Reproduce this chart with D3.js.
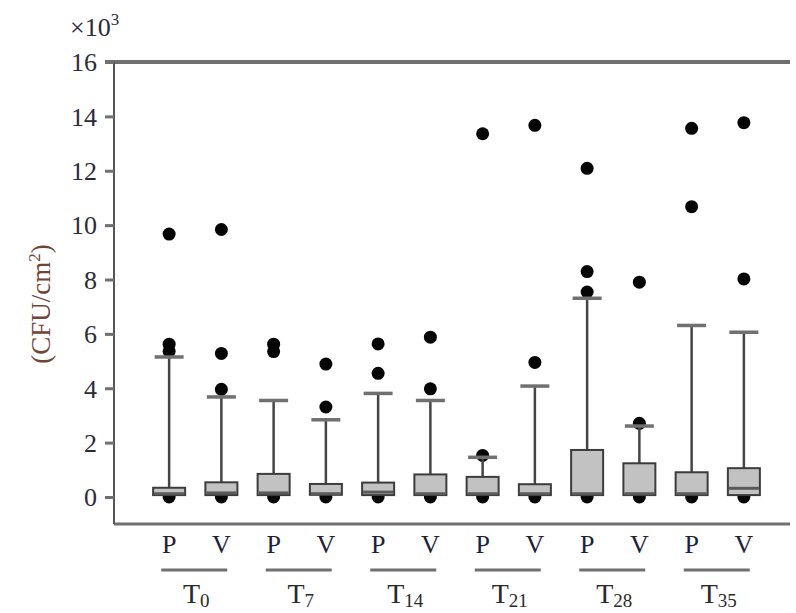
<!DOCTYPE html>
<html><head><meta charset="utf-8">
<script src="https://cdn.jsdelivr.net/npm/d3@7"></script>
<style>body{margin:0;background:#fff}svg{display:block}text{font-family:"Liberation Serif","DejaVu Serif",serif}</style>
</head><body><svg id="c" width="796" height="613"></svg>
<script>
// ---- data (values in thousands CFU/cm²) ----
const groups = ["T0","T7","T14","T21","T28","T35"];
const groupSubs = ["0","7","14","21","28","35"];
const treatments = ["P","V"];
// order: T0P, T0V, T7P, T7V, ... T35P, T35V
const q1Values      = [0.07,0.07,0.07,0.08,0.07,0.07,0.07,0.07,0.07,0.07,0.07,0.07];
const medianValues  = [0.12,0.15,0.15,0.12,0.18,0.12,0.12,0.12,0.12,0.12,0.12,0.32];
const q3Values      = [0.34,0.54,0.85,0.48,0.53,0.83,0.74,0.47,1.73,1.24,0.91,1.06];
const whiskerHigh   = [5.15,3.68,3.55,2.84,3.81,3.55,1.46,4.08,7.31,2.61,6.31,6.06];
const outlierValues = [
  [9.67,5.62,5.36,0],
  [9.84,5.28,3.96,0],
  [5.62,5.35,0],
  [4.89,3.31,0],
  [5.63,4.55,0],
  [5.88,3.98,0],
  [13.36,1.53,0],
  [13.67,4.95,0],
  [12.09,8.29,7.54,0],
  [7.90,2.71,0],
  [13.56,10.68,0],
  [13.77,8.02,0]
];
const yTicks = [0,2,4,6,8,10,12,14,16];

const boxes = [];
groups.forEach((g,gi)=>treatments.forEach((t,ti)=>{
  const i = gi*2+ti;
  boxes.push({g,t,q1:q1Values[i],med:medianValues[i],q3:q3Values[i],hi:whiskerHigh[i],out:outlierValues[i]});
}));

const svg = d3.select("#c");
const y = d3.scaleLinear().domain([0,16]).range([497,62]);
const xg = d3.scaleBand().domain(groups).range([143,770]);
const xt = d3.scaleBand().domain(treatments).range([0,xg.bandwidth()]);
const cx = d => xg(d.g)+xt(d.t)+xt.bandwidth()/2;
const axisLeftX = 114;

// frame lines
svg.append("line").attr("x1",105).attr("x2",790).attr("y1",y(16)).attr("y2",y(16))
  .attr("stroke","#707070").attr("stroke-width",4);
svg.append("line").attr("x1",axisLeftX).attr("x2",790).attr("y1",524).attr("y2",524)
  .attr("stroke","#707070").attr("stroke-width",3);

// left axis
const ax = svg.append("g").attr("transform",`translate(${axisLeftX},0)`)
  .call(d3.axisLeft(y).tickValues(yTicks).tickSize(9).tickPadding(8).tickFormat(d3.format("d")));
ax.select(".domain").attr("d",`M0,${y(16)}V524`).attr("stroke","#555").attr("stroke-width",2);
ax.selectAll(".tick line").attr("stroke","#707070").attr("stroke-width",3);
ax.selectAll(".tick text").attr("font-size",26).attr("fill","#2a2a3a")
  .attr("font-family","'Liberation Serif',serif").attr("dy","0.34em");

// multiplier
const m = svg.append("text").attr("x",70).attr("y",36).attr("font-size",26).attr("fill","#2a2a3a");
m.append("tspan").text("×10");
m.append("tspan").attr("font-size",17).attr("dy",-11).text("3");

// y label
const yl = svg.append("text").attr("transform","translate(50,304) rotate(-90)")
  .attr("text-anchor","middle").attr("font-size",27).attr("fill","#6e4636");
yl.append("tspan").text("(CFU/cm");
yl.append("tspan").attr("font-size",17).attr("dy",-10).text("2");
yl.append("tspan").attr("dy",10).text(")");

const bw = 32, capW = 29;
const b = svg.append("g").selectAll("g").data(boxes).join("g");
// outliers (drawn first; bottom ones partly hidden by boxes)
b.selectAll("circle").data(d=>d.out.map(v=>({v,x:cx(d)}))).join("circle")
  .attr("cx",d=>d.x).attr("cy",d=>y(d.v)).attr("r",6.5).attr("fill","#050505");
// whisker
b.append("line").attr("x1",cx).attr("x2",cx).attr("y1",d=>y(d.q3)).attr("y2",d=>y(d.hi))
  .attr("stroke","#454545").attr("stroke-width",2.5);
b.append("line").attr("x1",d=>cx(d)-capW/2).attr("x2",d=>cx(d)+capW/2)
  .attr("y1",d=>y(d.hi)).attr("y2",d=>y(d.hi)).attr("stroke","#707070").attr("stroke-width",3.5);
// box
b.append("rect").attr("x",d=>cx(d)-bw/2).attr("width",bw)
  .attr("y",d=>y(d.q3)).attr("height",d=>y(d.q1)-y(d.q3))
  .attr("fill","#c2c2c2").attr("stroke","#3c3c3c").attr("stroke-width",2);
b.append("line").attr("x1",d=>cx(d)-bw/2+1).attr("x2",d=>cx(d)+bw/2-1)
  .attr("y1",d=>y(d.med)).attr("y2",d=>y(d.med)).attr("stroke","#5a5a5a").attr("stroke-width",3);

// category labels
svg.append("g").selectAll("text").data(boxes).join("text")
  .attr("x",cx).attr("y",553).attr("text-anchor","middle").attr("font-size",26)
  .attr("fill","#1e1e3a").text(d=>d.t);
svg.append("g").selectAll("line").data(groups).join("line")
  .attr("x1",g=>xg(g)+xg.bandwidth()/2-34).attr("x2",g=>xg(g)+xg.bandwidth()/2+32)
  .attr("y1",570).attr("y2",570).attr("stroke","#707070").attr("stroke-width",3);
const gl = svg.append("g").selectAll("text").data(groups).join("text")
  .attr("x",g=>xg(g)+xg.bandwidth()/2+1).attr("y",603).attr("text-anchor","middle")
  .attr("font-size",28).attr("fill","#2a2a2a");
gl.append("tspan").text("T");
gl.append("tspan").attr("font-size",19).attr("dy",4).text((g,i)=>groupSubs[i]);
</script></body></html>
